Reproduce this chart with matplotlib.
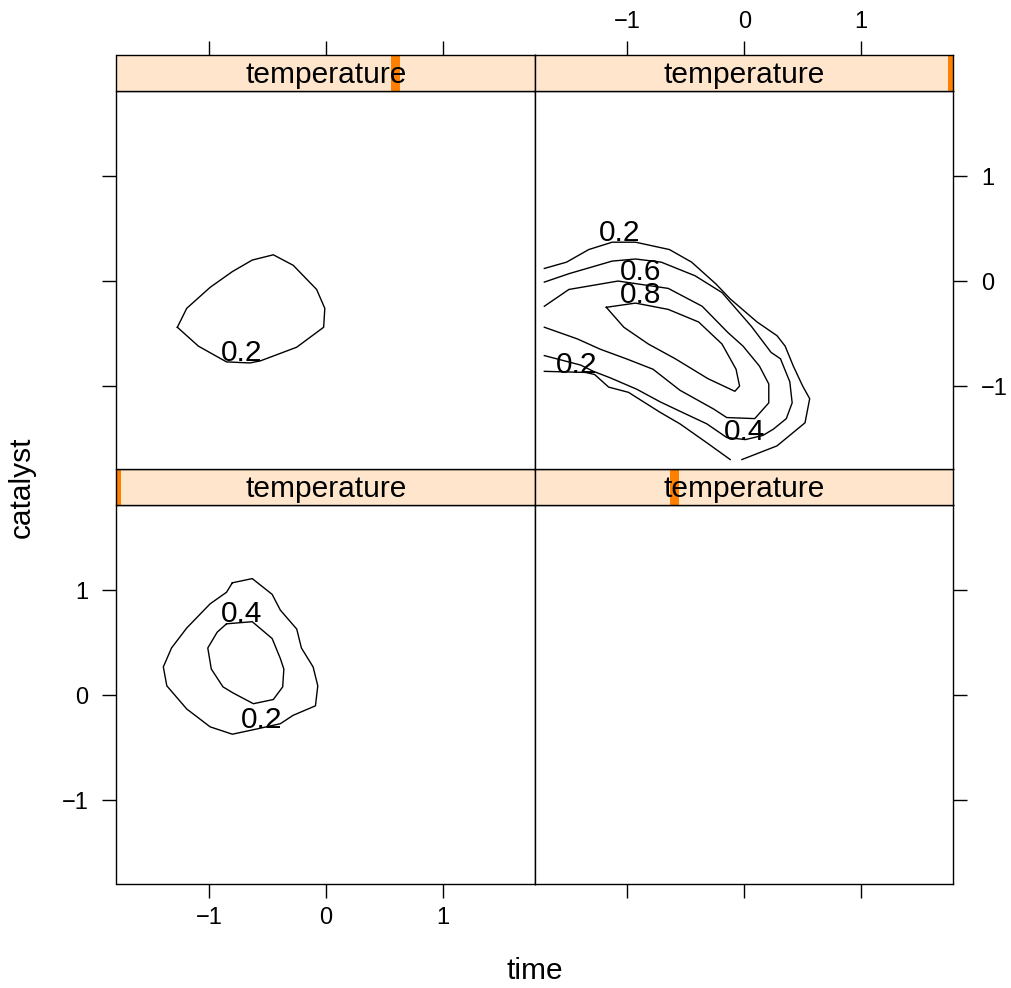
import matplotlib
matplotlib.use("Agg")
import matplotlib.pyplot as plt
from matplotlib.patches import Rectangle

plt.rcParams["font.family"] = ["Liberation Sans", "DejaVu Sans"]

# conditioning levels (one panel each, lattice order: bottom-left, bottom-right, top-left, top-right)
temperature = [-1.5, -0.5, 0.5, 1.5]
x_ticks = [-1, 0, 1]
y_ticks = [-1, 0, 1]

# panel 1 contours
p1_lvl02_x = [-0.80, -0.63, -0.46, -0.39, -0.25, -0.21, -0.11, -0.07, -0.09, -0.28, -0.39,
              -0.59, -0.80, -0.99, -1.19, -1.36, -1.39, -1.32, -1.19, -0.99, -0.85, -0.80]
p1_lvl02_y = [1.07, 1.11, 0.96, 0.81, 0.63, 0.45, 0.27, 0.09, -0.10, -0.19, -0.27,
              -0.32, -0.37, -0.30, -0.13, 0.09, 0.27, 0.45, 0.64, 0.87, 0.98, 1.07]
p1_lvl04_x = [-0.85, -0.63, -0.46, -0.39, -0.36, -0.37, -0.45, -0.62, -0.79, -0.88, -0.98, -1.01, -0.93, -0.85]
p1_lvl04_y = [0.68, 0.70, 0.54, 0.35, 0.25, 0.08, -0.04, -0.08, 0.02, 0.08, 0.25, 0.45, 0.60, 0.68]

# panel 3 contours
p3_lvl02_x = [-1.27, -1.19, -1.17, -0.99, -0.80, -0.63, -0.45, -0.28, -0.08, -0.01, -0.02,
              -0.25, -0.56, -0.65, -0.85, -1.09, -1.27]
p3_lvl02_y = [-0.44, -0.26, -0.24, -0.06, 0.09, 0.20, 0.25, 0.15, -0.08, -0.26, -0.44,
              -0.63, -0.76, -0.78, -0.77, -0.62, -0.44]

# panel 4 contours
p4_lvl02a_x = [-1.71, -1.52, -1.33, -1.13, -0.93, -0.64, -0.45, -0.24, -0.12, 0.11, 0.28,
               0.35, 0.42, 0.50, 0.56, 0.52, 0.28, -0.02]
p4_lvl02a_y = [0.12, 0.18, 0.30, 0.37, 0.37, 0.30, 0.18, -0.03, -0.17, -0.39, -0.52,
               -0.62, -0.81, -1.00, -1.12, -1.35, -1.57, -1.70]
p4_lvl02b_x = [-0.12, -0.32, -0.55, -0.72, -0.99, -1.16, -1.28, -1.36, -1.71]
p4_lvl02b_y = [-1.70, -1.54, -1.36, -1.25, -1.06, -1.01, -0.89, -0.87, -0.86]
p4_lvl04_x = [-1.71, -1.50, -1.13, -0.93, -0.71, -0.42, -0.19, 0.06, 0.23, 0.31, 0.39, 0.41,
              0.36, 0.25, 0.16, 0.01, -0.15, -0.32, -0.55, -0.72, -0.92, -1.15, -1.29, -1.40, -1.71]
p4_lvl04_y = [-0.01, 0.07, 0.19, 0.21, 0.18, 0.05, -0.11, -0.43, -0.68, -0.74, -0.96, -1.16,
              -1.31, -1.41, -1.47, -1.51, -1.49, -1.36, -1.24, -1.15, -1.03, -0.92, -0.86, -0.80, -0.71]
p4_lvl06_x = [-1.71, -1.50, -1.08, -0.65, -0.36, -0.14, -0.01, 0.13, 0.21, 0.21, 0.09,
              -0.15, -0.26, -0.55, -0.78, -1.01, -1.23, -1.43, -1.71]
p4_lvl06_y = [-0.24, -0.08, 0.00, -0.07, -0.24, -0.49, -0.62, -0.81, -0.98, -1.16, -1.31,
              -1.30, -1.22, -1.04, -0.84, -0.74, -0.65, -0.55, -0.44]
p4_lvl08_x = [-1.18, -0.93, -0.65, -0.39, -0.19, -0.07, -0.04, -0.08, -0.31, -0.59, -0.82, -1.03, -1.18]
p4_lvl08_y = [-0.25, -0.21, -0.27, -0.39, -0.60, -0.84, -1.00, -1.05, -0.93, -0.74, -0.60, -0.44, -0.25]

panel_lines = [
    [(p1_lvl02_x, p1_lvl02_y), (p1_lvl04_x, p1_lvl04_y)],
    [],
    [(p3_lvl02_x, p3_lvl02_y)],
    [(p4_lvl02a_x, p4_lvl02a_y), (p4_lvl02b_x, p4_lvl02b_y), (p4_lvl04_x, p4_lvl04_y),
     (p4_lvl06_x, p4_lvl06_y), (p4_lvl08_x, p4_lvl08_y)],
]

# contour labels: panel index, text, x, baseline y
label_panel = [0, 0, 2, 3, 3, 3, 3, 3]
label_text = ["0.4", "0.2", "0.2", "0.2", "0.6", "0.8", "0.2", "0.4"]
label_x = [-0.72, -0.55, -0.72, -1.07, -0.89, -0.89, -1.43, 0.00]
label_y = [0.70, -0.31, -0.76, 0.38, 0.01, -0.21, -0.88, -1.51]

W, H = 1012, 988
fig = plt.figure(figsize=(W / 100, H / 100), dpi=100)

XLIM = (-1.79, 1.786)
YLIM = (-1.79, 1.81)
cols = [(116.5, 535), (535, 953)]
rows = [(505, 883.5, 469), (91, 469, 55.5)]  # panel top, panel bottom, strip top

STRIP_BG = "#FFE5CC"
STRIP_BAR = "#FF7F00"
TICK_LEN = 10
FS = 21.5
TICK_FS = 17

tmin, tmax = min(temperature), max(temperature)

for i in range(4):
    r, c = divmod(i, 2)
    x0, x1 = cols[c]
    ptop, pbot, stop = rows[r]
    ax = fig.add_axes([x0 / W, 1 - pbot / H, (x1 - x0) / W, (pbot - ptop) / H])
    sx = fig.add_axes([x0 / W, 1 - ptop / H, (x1 - x0) / W, (ptop - stop) / H])

    for xs, ys in panel_lines[i]:
        ax.plot(xs, ys, color="black", lw=1.0)
    for p, t, lx, ly in zip(label_panel, label_text, label_x, label_y):
        if p == i:
            ax.text(lx, ly, t, ha="center", va="baseline", fontsize=FS, color="black")

    ax.set_xlim(*XLIM)
    ax.set_ylim(*YLIM)
    ax.set_xticks(x_ticks)
    ax.set_yticks(y_ticks)
    ax.tick_params(direction="out", length=TICK_LEN, width=1, labelsize=TICK_FS,
                   bottom=(r == 0), labelbottom=(r == 0 and c == 0),
                   left=(c == 0), labelleft=(c == 0 and r == 0),
                   right=(c == 1), labelright=(c == 1 and r == 1),
                   top=False, labeltop=False)
    ax.tick_params(axis="x", pad=7)
    ax.tick_params(axis="y", pad=10)
    for s in ax.spines.values():
        s.set_linewidth(1.0)

    # strip
    sx.set_facecolor(STRIP_BG)
    sx.set_xlim(*XLIM)
    sx.set_ylim(0, 1)
    pos = (temperature[i] - tmin) / (tmax - tmin)
    sx.add_patch(Rectangle((pos - 0.011, 0), 0.022, 1, transform=sx.transAxes,
                           facecolor=STRIP_BAR, edgecolor="none", clip_on=True))
    sx.text(0.5, 0.45, "temperature", transform=sx.transAxes, ha="center", va="center",
            fontsize=FS, color="black")
    sx.set_yticks([])
    if r == 1:
        sx.set_xticks(x_ticks)
        sx.tick_params(axis="x", direction="out", length=TICK_LEN, width=1, labelsize=TICK_FS,
                       bottom=False, labelbottom=False, top=True, labeltop=(c == 1), pad=6)
    else:
        sx.set_xticks([])
    for s in sx.spines.values():
        s.set_linewidth(1.0)

fig.text(535 / W, 1 - 979 / H, "time", ha="center", va="baseline", fontsize=FS)
fig.text(22 / W, 1 - 487 / H, "catalyst", ha="center", va="center", rotation=90, fontsize=FS)

fig.savefig("out.png", dpi=100)
